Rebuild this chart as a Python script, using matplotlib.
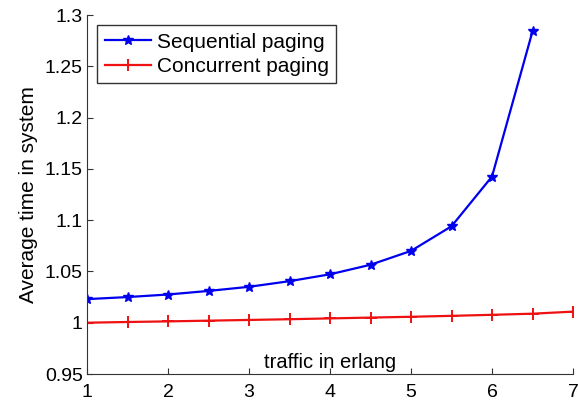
import matplotlib
matplotlib.use("Agg")
import matplotlib.pyplot as plt

plt.rcParams['font.family'] = ['Liberation Sans', 'DejaVu Sans']

# traffic load (erlang)
traffic_seq = [1, 1.5, 2, 2.5, 3, 3.5, 4, 4.5, 5, 5.5, 6, 6.5]
seq_time = [1.023, 1.025, 1.0275, 1.031, 1.035, 1.0405, 1.0472, 1.0565, 1.070, 1.094, 1.1425, 1.284]

traffic_con = [1, 1.5, 2, 2.5, 3, 3.5, 4, 4.5, 5, 5.5, 6, 6.5, 7]
con_time = [1.0, 1.0007, 1.0013, 1.002, 1.0027, 1.0034, 1.0042, 1.005, 1.0058, 1.0067, 1.0077, 1.0088, 1.0108]

fig = plt.figure(figsize=(5.78, 4.01), dpi=100)
ax = fig.add_axes([87/578, 1 - 374/401, (573-87)/578, (374-15)/401])

ax.plot(traffic_seq, seq_time, color='#0000ee', marker='*', markersize=7, linewidth=1.6, label='Sequential paging')
ax.plot(traffic_con, con_time, color='#ee1111', marker='+', markersize=9, markeredgewidth=1.4, linewidth=1.6, label='Concurrent paging')

ax.set_xlim(1, 7)
ax.set_ylim(0.95, 1.3)
ax.set_yticks([0.95, 1, 1.05, 1.1, 1.15, 1.2, 1.25, 1.3])
ax.set_yticklabels(['0.95', '1', '1.05', '1.1', '1.15', '1.2', '1.25', '1.3'])
ax.set_xticks([1, 2, 3, 4, 5, 6, 7])

ax.spines['top'].set_visible(False)
ax.spines['right'].set_visible(False)
for s in ['left', 'bottom']:
    ax.spines[s].set_color('#333333')
ax.tick_params(direction='in', length=4, labelsize=14, colors='#333333', labelcolor='black')
ax.tick_params(axis='x', pad=7)
ax.tick_params(axis='y', pad=3)

ax.set_ylabel('Average time in system', fontsize=15, labelpad=5)
ax.text(4.0, 0.952, 'traffic in erlang', ha='center', va='bottom', fontsize=14.5)

leg = ax.legend(loc='upper left', fontsize=15, fancybox=False, framealpha=1, edgecolor='#333333',
                borderaxespad=0.5, handlelength=2.2, handletextpad=0.3, labelspacing=0.25, borderpad=0.35)
leg.get_frame().set_linewidth(1.0)

fig.savefig('out.png', dpi=100)
